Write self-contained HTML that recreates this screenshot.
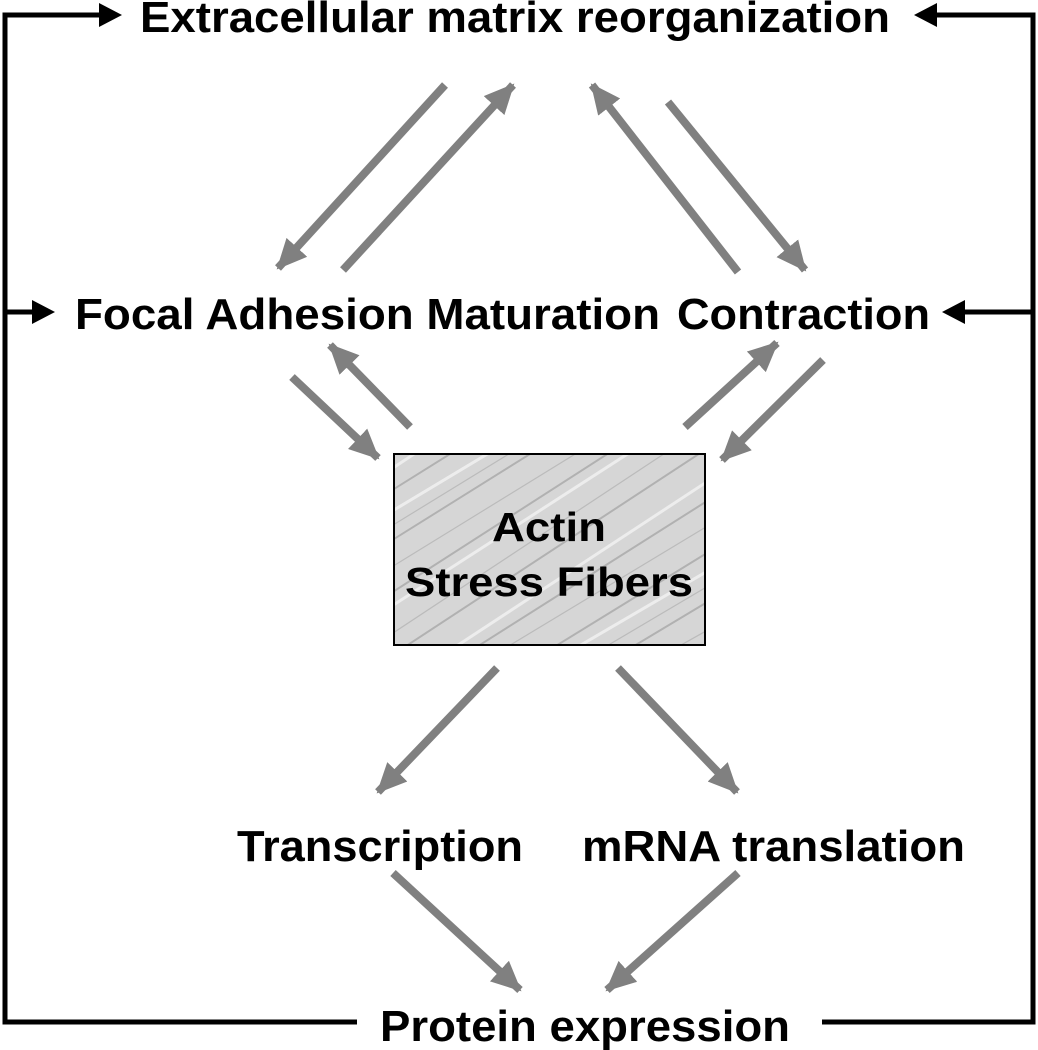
<!DOCTYPE html>
<html><head><meta charset="utf-8"><style>
html,body{margin:0;padding:0;background:#fff;}
svg{display:block;}
text{font-family:"Liberation Sans",Arial,sans-serif;font-weight:bold;fill:#000;}
</style></head><body>
<svg width="1038" height="1050" viewBox="0 0 1038 1050" xmlns="http://www.w3.org/2000/svg">
<defs>
<marker id="g" markerUnits="userSpaceOnUse" markerWidth="30" markerHeight="28" refX="28" refY="14" orient="auto">
<path d="M0,0 L30,14 L0,28 Z" fill="#808080"/>
</marker>
<pattern id="fib" x="394" y="454" width="312" height="192" patternUnits="userSpaceOnUse">
<rect width="312" height="192" fill="#d6d6d6"/>
<g stroke="#a8a8a8" stroke-width="2" opacity="0.8">
<path d="M-40,60 L120,-40 M-40,110 L200,-40 M-20,150 L260,-30 M0,200 L320,-10 M40,220 L340,30 M100,230 L360,70 M160,240 L360,120 M-40,20 L60,-40"/>
</g>
<g stroke="#f0f0f0" stroke-width="3" opacity="0.9">
<path d="M-40,80 L160,-40 M-30,170 L280,-30 M20,220 L340,10 M120,230 L360,90 M-40,40 L80,-40"/>
</g>
<g stroke="#bbbbbb" stroke-width="1.2">
<path d="M-40,95 L180,-40 M-30,130 L230,-30 M-10,185 L300,-20 M60,225 L350,50 M140,235 L360,105 M200,240 L360,150"/>
</g>
</pattern>
</defs>

<g stroke="#000" stroke-width="5" fill="none">
<path d="M357,1022 L5,1022 L5,15 L100,15"/>
<path d="M5,312 L34,312"/>
<path d="M822,1022 L1033,1022 L1033,15 L936,15"/>
<path d="M1033,312 L962,312"/>
</g>
<g fill="#000">
<path d="M122,15 L99,3 L99,27 Z"/>
<path d="M55,312 L32,300 L32,324 Z"/>
<path d="M914,15 L937,3 L937,27 Z"/>
<path d="M942,312 L965,300 L965,324 Z"/>
</g>

<g stroke="#808080" stroke-width="8" fill="none" marker-end="url(#g)">
<line x1="445" y1="85" x2="278" y2="268"/>
<line x1="343" y1="270" x2="513" y2="85"/>
<line x1="738" y1="272" x2="592" y2="85"/>
<line x1="668" y1="102" x2="805" y2="270"/>
<line x1="292" y1="377" x2="378" y2="458"/>
<line x1="410" y1="427" x2="330" y2="345"/>
<line x1="685" y1="427" x2="777" y2="343"/>
<line x1="823" y1="360" x2="722" y2="460"/>
<line x1="497" y1="668" x2="378" y2="792"/>
<line x1="618" y1="668" x2="737" y2="792"/>
<line x1="393" y1="873" x2="520" y2="990"/>
<line x1="738" y1="873" x2="607" y2="990"/>
</g>

<rect x="394" y="454" width="311" height="191" fill="url(#fib)" stroke="#000" stroke-width="2"/>

<text x="140" y="32" font-size="44" textLength="750" lengthAdjust="spacingAndGlyphs">Extracellular matrix reorganization</text>
<text x="75" y="329" font-size="44" textLength="585" lengthAdjust="spacingAndGlyphs">Focal Adhesion Maturation</text>
<text x="677" y="329" font-size="44" textLength="253" lengthAdjust="spacingAndGlyphs">Contraction</text>
<text x="492" y="541" font-size="41" textLength="114" lengthAdjust="spacingAndGlyphs">Actin</text>
<text x="405" y="596" font-size="41" textLength="288" lengthAdjust="spacingAndGlyphs">Stress Fibers</text>
<text x="237" y="861" font-size="44" textLength="286" lengthAdjust="spacingAndGlyphs">Transcription</text>
<text x="582" y="861" font-size="44" textLength="383" lengthAdjust="spacingAndGlyphs">mRNA translation</text>
<text x="380" y="1041" font-size="44" textLength="410" lengthAdjust="spacingAndGlyphs">Protein expression</text>
</svg>
</body></html>
